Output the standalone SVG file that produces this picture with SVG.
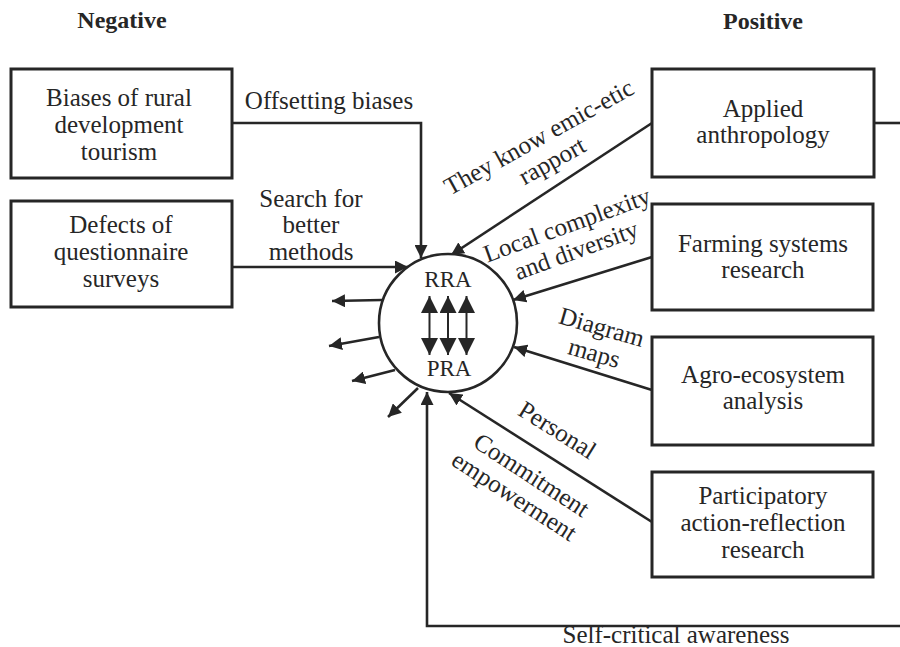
<svg xmlns="http://www.w3.org/2000/svg" width="900" height="647" viewBox="0 0 900 647">
  <style>
    text { font-family: "Liberation Serif", "Times New Roman", serif; font-size: 25px; fill: #262626; }
    .title { font-weight: bold; font-size: 24px; }
    .box { fill: #fff; stroke: #262626; stroke-width: 3; }
    .conn { fill: none; stroke: #262626; stroke-width: 2.6; }
    .inner { fill: none; stroke: #262626; stroke-width: 2; }
    .mid { text-anchor: middle; }
    .big { font-size: 23px; }
  </style>
  <defs>
    <marker id="arrow" markerUnits="userSpaceOnUse" markerWidth="14" markerHeight="13" refX="13" refY="6.5" orient="auto">
      <path d="M0,0 L13,6.5 L0,13 z" fill="#262626"/>
    </marker>
    <marker id="bigArrow" markerUnits="userSpaceOnUse" markerWidth="18" markerHeight="18" refX="17" refY="8.5" orient="auto-start-reverse">
      <path d="M0,0 L17,8.5 L0,17 z" fill="#262626"/>
    </marker>
  </defs>

  <rect width="900" height="647" fill="#fff"/>

  <!-- column headings -->
  <text class="title mid" x="122" y="28">Negative</text>
  <text class="title mid" x="763" y="29">Positive</text>

  <!-- connectors -->
  <g id="connectors">
    <path class="conn" d="M232,123 H421 V258" marker-end="url(#arrow)"/>
    <path class="conn" d="M232,267 H408" marker-end="url(#arrow)"/>
    <path class="conn" d="M652,123 L451,255" marker-end="url(#arrow)"/>
    <path class="conn" d="M652,257 L513,300" marker-end="url(#arrow)"/>
    <path class="conn" d="M652,390 L514,347" marker-end="url(#arrow)"/>
    <path class="conn" d="M652,522 L449,393" marker-end="url(#arrow)"/>
    <path class="conn" d="M874,123 H900"/>
    <path class="conn" d="M900,626 H427 V392" marker-end="url(#arrow)"/>
    <!-- outward arrows on the left of the circle -->
    <path class="conn" d="M382,300 L332,301" marker-end="url(#arrow)"/>
    <path class="conn" d="M379,337 L329,346" marker-end="url(#arrow)"/>
    <path class="conn" d="M395,370 L352,381" marker-end="url(#arrow)"/>
    <path class="conn" d="M418,388 L388,417" marker-end="url(#arrow)"/>
  </g>

  <!-- connector labels -->
  <g id="labels">
    <text class="mid" x="329" y="109">Offsetting biases</text>
    <text class="mid" x="311" y="207">Search for</text>
    <text class="mid" x="311" y="233">better</text>
    <text class="mid" x="311" y="260">methods</text>
    <g transform="translate(556,168) rotate(-29)">
      <text class="mid" x="0" y="-27">They know emic-etic</text>
      <text class="mid" x="0" y="0">rapport</text>
    </g>
    <g transform="translate(579,258) rotate(-20)">
      <text class="mid" x="0" y="-27">Local complexity</text>
      <text class="mid" x="0" y="0">and diversity</text>
    </g>
    <g transform="translate(592,361) rotate(16)">
      <text class="mid" x="0" y="-27">Diagram</text>
      <text class="mid" x="0" y="0">maps</text>
    </g>
    <text class="mid" transform="translate(553,437) rotate(32)">Personal</text>
    <g transform="translate(527,482) rotate(33)">
      <text class="mid" x="0" y="0">Commitment</text>
      <text class="mid" x="-3" y="27">empowerment</text>
    </g>
    <text class="mid" x="676" y="643">Self-critical awareness</text>
  </g>

  <!-- negative side -->
  <g id="biases">
    <rect class="box" x="11" y="69" width="221" height="109"/>
    <text class="mid" x="119" y="106">Biases of rural</text>
    <text class="mid" x="119" y="133">development</text>
    <text class="mid" x="119" y="160">tourism</text>
  </g>
  <g id="defects">
    <rect class="box" x="11" y="201" width="221" height="106"/>
    <text class="mid" x="121" y="233">Defects of</text>
    <text class="mid" x="121" y="260">questionnaire</text>
    <text class="mid" x="121" y="287">surveys</text>
  </g>

  <!-- central RRA / PRA node -->
  <g id="rra-pra">
    <circle cx="448" cy="323" r="69" fill="#fff" stroke="#262626" stroke-width="2.6"/>
    <text class="mid big" x="448" y="287">RRA</text>
    <text class="mid big" x="449" y="376">PRA</text>
    <line class="inner" x1="429.5" y1="296" x2="429.5" y2="355" marker-start="url(#bigArrow)" marker-end="url(#bigArrow)"/>
    <line class="inner" x1="448" y1="296" x2="448" y2="355" marker-start="url(#bigArrow)" marker-end="url(#bigArrow)"/>
    <line class="inner" x1="466.5" y1="296" x2="466.5" y2="355" marker-start="url(#bigArrow)" marker-end="url(#bigArrow)"/>
  </g>

  <!-- positive side -->
  <g id="applied-anthropology">
    <rect class="box" x="652" y="69" width="222" height="108"/>
    <text class="mid" x="763" y="117">Applied</text>
    <text class="mid" x="763" y="143">anthropology</text>
  </g>
  <g id="farming-systems">
    <rect class="box" x="652" y="204" width="221" height="106"/>
    <text class="mid" x="763" y="252">Farming systems</text>
    <text class="mid" x="763" y="278">research</text>
  </g>
  <g id="agro-ecosystem">
    <rect class="box" x="652" y="337" width="221" height="108"/>
    <text class="mid" x="763" y="383">Agro-ecosystem</text>
    <text class="mid" x="763" y="409">analysis</text>
  </g>
  <g id="participatory">
    <rect class="box" x="652" y="472" width="221" height="105"/>
    <text class="mid" x="763" y="504">Participatory</text>
    <text class="mid" x="763" y="531">action-reflection</text>
    <text class="mid" x="763" y="558">research</text>
  </g>
</svg>
